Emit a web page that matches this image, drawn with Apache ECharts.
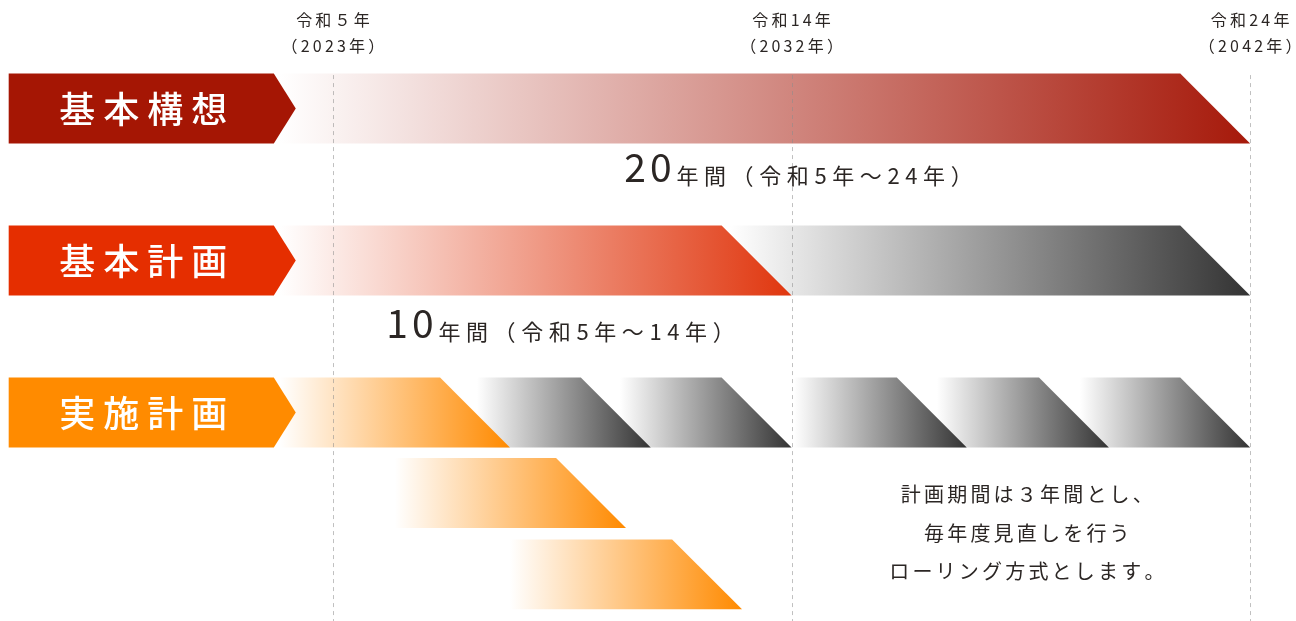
<!DOCTYPE html>
<html>
<head>
<meta charset="utf-8">
<script src="https://cdn.jsdelivr.net/npm/echarts@6/dist/echarts.min.js"></script>
<style>
html, body { margin: 0; padding: 0; background: #ffffff; }
#chart { width: 1296px; height: 621px; }
</style>
</head>
<body>
<div id="chart"></div>
<script>
// ---- DATA (x = 令和 year, start of year; y = lane index) ----
const phaseNames = ['基本構想', '基本計画', '実施計画'];
const phaseLanes = [0, 1, 2];
const phaseLabelStart = -2.07;
const phaseLabelEnd = 3.71;

const boundaryYears = [5, 15, 25];
const boundaryLabels = ['令和５年\n（2023年）', '令和14年\n（2032年）', '令和24年\n（2042年）'];

// bars: listed so that earlier periods are drawn on top of later ones
const barLane  = [0,     1,     1,     2,     2,     2,     2,     2,     2,    2.53,  3.065];
const barStart = [3.84,  13.66, 3.84,  21.29, 18.17, 15.05, 11.26, 8.14,  3.84, 6.35,  8.86];
const barEnd   = [25.0,  25.0,  15.0,  25.0,  21.92, 18.82, 15.0,  11.93, 8.86, 11.39, 13.92];
const barTone  = ['crimson', 'gray', 'vermilion', 'gray', 'gray', 'gray', 'gray', 'gray', 'orange', 'orange', 'orange'];

const periodYears = ['20', '10'];
const periodTexts = ['年間（令和5年～24年）', '年間（令和5年～14年）'];
const periodX = [15.16, 9.97];
const periodLane = [0.378, 1.402];

const rollingNote = ['計画期間は３年間とし、', '毎年度見直しを行う', 'ローリング方式とします。'];
const rollingNoteX = 20.13;
const rollingNoteLane = 2.793;

// ---- STYLE ----
const FONT = "'Noto Sans CJK JP', 'Noto Sans', sans-serif";
const TEXT_COLOR = '#2b2624';
const BAR_THICK = 0.46;          // lane units
const LINE_TOP = -0.22, LINE_BOTTOM = 3.372;
const YEAR_LABEL_LANE = -0.497;
const labelColors = ['#a51604', '#e52e00', '#ff8b00'];
const toneStops = {
  crimson: ['#ffffff', '#a6190a'],
  vermilion: ['#ffffff', '#e0360e'],
  orange: ['#ffffff', '#ff8a00'],
  gray: ['#ffffff', '#333333']
};

function spaced(str, key) {
  return str.split('\n').map(line => Array.from(line).map(c => '{' + key + '|' + c + '}').join('')).join('\n');
}

const chart = echarts.init(document.getElementById('chart'));

const option = {
  animation: false,
  backgroundColor: '#ffffff',
  grid: { left: 0, right: 0, top: 0, bottom: 0 },
  xAxis: { type: 'value', min: -2.26, max: 26.0, show: false },
  yAxis: { type: 'value', min: -0.714, max: 3.372, inverse: true, show: false },
  series: [
    {
      type: 'custom',
      name: 'bars',
      silent: true,
      z: 2,
      data: barLane.map((l, i) => [l, barStart[i], barEnd[i]]),
      renderItem: function (params, api) {
        const lane = api.value(0);
        const p0 = api.coord([api.value(1), lane]);
        const p1 = api.coord([api.value(2), lane]);
        const h = api.size([0, BAR_THICK])[1];
        const top = p0[1] - h / 2, bot = p0[1] + h / 2;
        const stops = toneStops[barTone[params.dataIndex]];
        return {
          type: 'polygon',
          shape: { points: [[p0[0], top], [p1[0] - h, top], [p1[0], bot], [p0[0], bot]] },
          style: {
            fill: new echarts.graphic.LinearGradient(0, 0, 1, 0, [
              { offset: 0, color: stops[0] },
              { offset: 1, color: stops[1] }
            ])
          }
        };
      }
    },
    {
      type: 'custom',
      name: 'boundaries',
      silent: true,
      z: 3,
      data: boundaryYears.map(y => [y]),
      renderItem: function (params, api) {
        const x = api.value(0);
        const a = api.coord([x, LINE_TOP]);
        const b = api.coord([x, LINE_BOTTOM]);
        const px = Math.round(a[0]) + 0.5;
        return {
          type: 'line',
          shape: { x1: px, y1: a[1], x2: px, y2: b[1] },
          style: { stroke: 'rgba(140,140,140,0.55)', lineWidth: 1, lineDash: [4, 4] }
        };
      }
    },
    {
      type: 'custom',
      name: 'boundaryLabels',
      silent: true,
      z: 4,
      data: boundaryYears.map(y => [y, YEAR_LABEL_LANE]),
      renderItem: function (params, api) {
        const p = api.coord([api.value(0), api.value(1)]);
        return {
          type: 'text',
          x: p[0], y: p[1],
          style: {
            text: spaced(boundaryLabels[params.dataIndex], 'y'),
            align: 'center',
            verticalAlign: 'middle',
            rich: {
              y: { fontFamily: FONT, fontSize: 16, lineHeight: 26, fill: TEXT_COLOR, padding: [0, 1.6] }
            }
          }
        };
      }
    },
    {
      type: 'custom',
      name: 'phaseLabels',
      silent: true,
      z: 5,
      data: phaseLanes.map(l => [l, phaseLabelStart, phaseLabelEnd]),
      renderItem: function (params, api) {
        const lane = api.value(0);
        const p0 = api.coord([api.value(1), lane]);
        const p1 = api.coord([api.value(2), lane]);
        const h = api.size([0, BAR_THICK])[1];
        const top = p0[1] - h / 2, bot = p0[1] + h / 2;
        const tip = 22;
        return {
          type: 'group',
          children: [
            {
              type: 'polygon',
              shape: { points: [[p0[0], top], [p1[0], top], [p1[0] + tip, p0[1]], [p1[0], bot], [p0[0], bot]] },
              style: { fill: labelColors[params.dataIndex] }
            },
            {
              type: 'text',
              x: (p0[0] + p1[0]) / 2 + 2, y: p0[1] + 1,
              style: {
                text: spaced(phaseNames[params.dataIndex], 'w'),
                align: 'center',
                verticalAlign: 'middle',
                rich: {
                  w: { fontFamily: FONT, fontSize: 36, fontWeight: 500, lineHeight: 40, fill: '#ffffff', padding: [0, 4] }
                }
              }
            }
          ]
        };
      }
    },
    {
      type: 'custom',
      name: 'periods',
      silent: true,
      z: 5,
      data: periodX.map((x, i) => [x, periodLane[i]]),
      renderItem: function (params, api) {
        const p = api.coord([api.value(0), api.value(1)]);
        const i = params.dataIndex;
        return {
          type: 'text',
          x: p[0], y: p[1],
          style: {
            text: spaced(periodYears[i], 'b') + spaced(periodTexts[i], 's'),
            align: 'center',
            verticalAlign: 'middle',
            rich: {
              b: { fontFamily: FONT, fontSize: 39, lineHeight: 42, fill: TEXT_COLOR, verticalAlign: 'bottom', padding: [0, 2] },
              s: { fontFamily: FONT, fontSize: 22, lineHeight: 27, fill: TEXT_COLOR, verticalAlign: 'bottom', padding: [0, 2.8] }
            }
          }
        };
      }
    },
    {
      type: 'custom',
      name: 'rollingNote',
      silent: true,
      z: 5,
      data: [[rollingNoteX, rollingNoteLane]],
      renderItem: function (params, api) {
        const p = api.coord([api.value(0), api.value(1)]);
        return {
          type: 'text',
          x: p[0], y: p[1],
          style: {
            text: spaced(rollingNote.join('\n'), 'p'),
            align: 'center',
            verticalAlign: 'middle',
            rich: {
              p: { fontFamily: FONT, fontSize: 20, lineHeight: 38.5, fill: TEXT_COLOR, padding: [0, 1.6] }
            }
          }
        };
      }
    }
  ]
};

chart.setOption(option);
</script>
</body>
</html>
